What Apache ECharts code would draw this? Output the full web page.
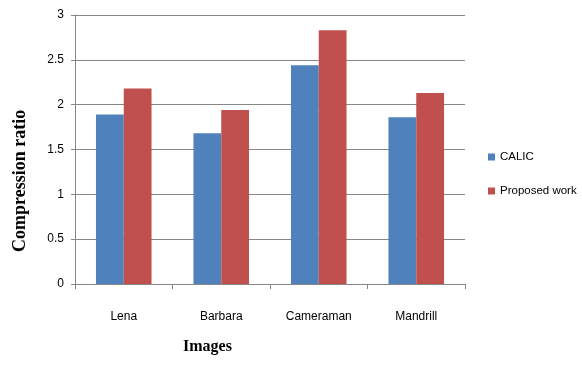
<!DOCTYPE html>
<html><head><meta charset="utf-8">
<script src="https://cdn.jsdelivr.net/npm/echarts@6/dist/echarts.min.js"></script>
<style>html,body{margin:0;padding:0;background:#fff}#c{width:582px;height:371px}</style>
</head><body><div id="c"></div>
<script>
const categories = ['Lena', 'Barbara', 'Cameraman', 'Mandrill'];
const calic = [1.89, 1.68, 2.44, 1.86];
const proposed = [2.18, 1.94, 2.83, 2.13];
const yTicks = [0, 0.5, 1, 1.5, 2, 2.5, 3];

const chart = echarts.init(document.getElementById('c'));
const lab = {fontFamily: 'Liberation Sans', fontSize: 12, color: '#000'};
chart.setOption({
  animation: false,
  grid: {left: 75, right: 117, top: 15, bottom: 87},
  legend: {
    orient: 'vertical', left: 483, top: 146, itemWidth: 7, itemHeight: 7, itemGap: 22,
    icon: 'rect', textStyle: Object.assign({}, lab, {fontSize: 11.5}),
    data: ['CALIC', 'Proposed work']
  },
  xAxis: {
    type: 'category', data: categories,
    axisLine: {lineStyle: {color: '#888', width: 1}},
    axisTick: {show: true, length: 5, lineStyle: {color: '#888'}},
    axisLabel: Object.assign({}, lab, {margin: 27})
  },
  yAxis: {
    type: 'value', min: 0, max: 3, interval: 0.5,
    axisLine: {show: true, lineStyle: {color: '#888'}},
    axisTick: {show: true, length: 4, lineStyle: {color: '#888'}},
    splitLine: {lineStyle: {color: '#888', width: 1}},
    axisLabel: Object.assign({}, lab, {margin: 11, formatter: v => yTicks.includes(v) ? String(v) : ''})
  },
  graphic: [
    {type: 'text', left: 183, top: 339, style: {text: 'Images', font: 'bold 16px "Liberation Serif"', fill: '#000'}},
    {type: 'text', x: 11, y: 252, rotation: Math.PI/2, style: {text: 'Compression ratio', font: 'bold 18px "Liberation Serif"', fill: '#000'}}
  ],
  series: [
    {name: 'CALIC', type: 'bar', data: calic, barGap: '0%', barCategoryGap: '43%', itemStyle: {color: '#4F81BD'}},
    {name: 'Proposed work', type: 'bar', data: proposed, itemStyle: {color: '#C0504D'}}
  ]
});
</script></body></html>
